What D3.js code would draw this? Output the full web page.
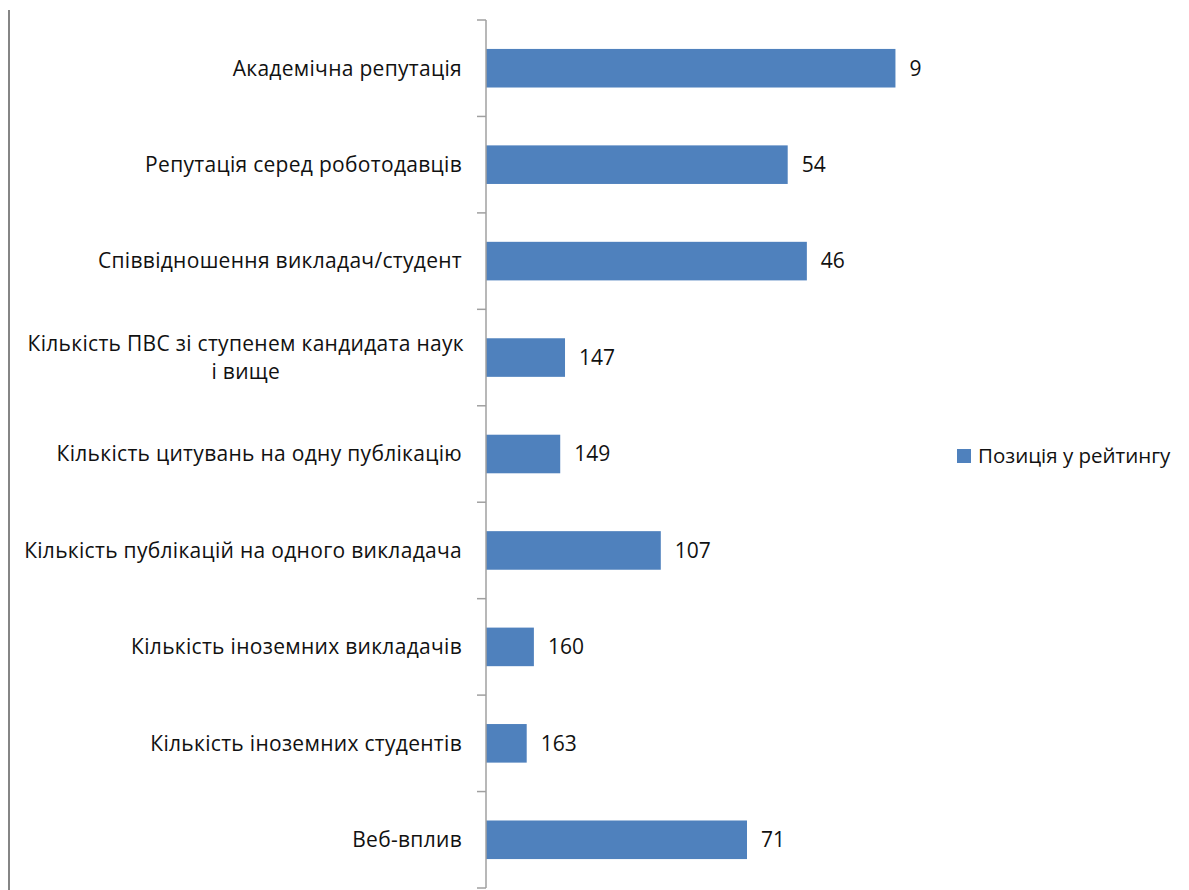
<!DOCTYPE html>
<html><head><meta charset="utf-8">
<script src="https://cdn.jsdelivr.net/npm/d3@7"></script>
<style>body{margin:0;background:#fff}svg{display:block}</style>
</head><body>
<script>
const categories = [
  "Академічна репутація",
  "Репутація серед роботодавців",
  "Співвідношення викладач/студент",
  "Кількість ПВС зі ступенем кандидата наук|і вище",
  "Кількість цитувань на одну публікацію",
  "Кількість публікацій на одного викладача",
  "Кількість іноземних викладачів",
  "Кількість іноземних студентів",
  "Веб-вплив"
];
const ranks = [9, 54, 46, 147, 149, 107, 160, 163, 71];
const seriesName = "Позиція у рейтингу";

const W = 1189, H = 890;
const FONT = "'Open Sans', sans-serif";
const FS = 21;
const LS = 0.3;
const svg = d3.select("body").append("svg").attr("width", W).attr("height", H);

const y = d3.scaleBand().domain(categories).range([20, 888]).paddingInner(0.6).paddingOuter(0.3);
const x = d3.scaleLinear().domain([180, 0]).range([486, 917]);

// outer border line at left
svg.append("line").attr("x1", 9).attr("x2", 9).attr("y1", 10).attr("y2", 890)
  .attr("stroke", "#858585").attr("stroke-width", 2);

// bars
svg.selectAll("rect.bar").data(categories).join("rect")
  .attr("class", "bar")
  .attr("x", x(180))
  .attr("y", d => y(d))
  .attr("width", (d, i) => x(ranks[i]) - x(180))
  .attr("height", y.bandwidth())
  .attr("fill", "#4f81bd");

// axis line + ticks at category boundaries
const step = y.step();
const y0 = y.range()[0];
svg.append("line").attr("x1", 486).attr("x2", 486).attr("y1", y0).attr("y2", y.range()[1])
  .attr("stroke", "#a0a0a0").attr("stroke-width", 1.5);
d3.range(categories.length + 1).forEach(i => {
  const ty = y0 + i * step;
  svg.append("line").attr("x1", 477).attr("x2", 486).attr("y1", ty).attr("y2", ty)
    .attr("stroke", "#a0a0a0").attr("stroke-width", 1.5);
});

// category labels
categories.forEach(c => {
  const lines = c.split("|");
  const cy = y(c) + y.bandwidth() / 2;
  if (lines.length === 1) {
    svg.append("text").attr("x", 462).attr("y", cy).attr("dy", "0.35em")
      .attr("text-anchor", "end").attr("font-family", FONT).attr("font-size", FS)
      .attr("letter-spacing", LS).attr("fill", "#111").text(lines[0]);
  } else {
    const t = svg.append("text").attr("font-family", FONT).attr("font-size", FS)
      .attr("letter-spacing", LS).attr("fill", "#111").attr("text-anchor", "middle");
    const t1 = t.append("tspan").attr("y", cy - 14).attr("dy", "0.35em").text(lines[0]);
    const w = t1.node().getComputedTextLength();
    const cx = 464 - w / 2;
    t1.attr("x", cx);
    t.append("tspan").attr("x", cx).attr("y", cy + 14).attr("dy", "0.35em").text(lines[1]);
  }
});

// value labels
svg.selectAll("text.val").data(categories).join("text")
  .attr("class", "val")
  .attr("x", (d, i) => x(ranks[i]) + 14)
  .attr("y", d => y(d) + y.bandwidth() / 2)
  .attr("dy", "0.35em")
  .attr("font-family", FONT).attr("font-size", FS).attr("fill", "#111")
  .text((d, i) => ranks[i]);

// legend
svg.append("rect").attr("x", 957).attr("y", 449).attr("width", 14).attr("height", 14).attr("fill", "#4f81bd");
svg.append("text").attr("x", 978).attr("y", 456).attr("dy", "0.35em")
  .attr("font-family", FONT).attr("font-size", 20.5).attr("fill", "#111").text(seriesName);
</script>
</body></html>
